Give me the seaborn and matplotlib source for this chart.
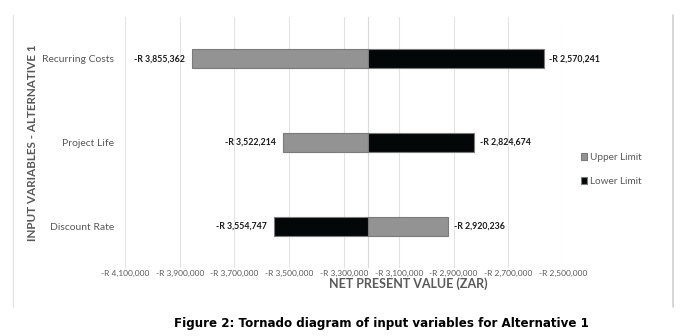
import numpy as np
import pandas as pd
import matplotlib
matplotlib.use("Agg")
import matplotlib.pyplot as plt
from matplotlib.lines import Line2D
import seaborn as sns

# --- Data ---
variables = ["Recurring Costs", "Project Life", "Discount Rate"]
upper_limit = [-3855362, -3522214, -2920236]
lower_limit = [-2570241, -2824674, -3554747]
base_npv = -3211000
tick_values = [-4100000, -3900000, -3700000, -3500000, -3300000,
               -3100000, -2900000, -2700000, -2500000]

# --- Style ---
sns.set_style("white")
plt.rcParams['font.family'] = ['Lato', 'DejaVu Sans']

GREY_TXT = "#595959"
UPPER_C = "#939393"
LOWER_C = "#030708"

W, H = 686, 336
fig = plt.figure(figsize=(W / 100, H / 100), dpi=100)
ax = fig.add_axes([125 / W, (H - 268) / H, 438 / W, 251 / H])

# long-form frame: bars drawn as offsets from the base case NPV
df = pd.DataFrame({
    "variable": variables * 2,
    "limit": ["Upper Limit"] * 3 + ["Lower Limit"] * 3,
    "value": upper_limit + lower_limit,
})
df["delta"] = df["value"] - base_npv

sns.barplot(data=df, x="delta", y="variable", hue="limit",
            order=variables, hue_order=["Upper Limit", "Lower Limit"],
            palette={"Upper Limit": UPPER_C, "Lower Limit": LOWER_C},
            dodge=False, width=0.23, edgecolor="#7a7a7a", linewidth=0.8,
            errorbar=None, ax=ax)

# axis setup in real NPV terms
ticks = np.array(tick_values)
ax.set_xlim(tick_values[0] - base_npv, tick_values[-1] - base_npv)
ax.set_xticks(ticks - base_npv)
ax.set_xticklabels([f"-R {abs(t):,.0f}" for t in tick_values],
                   fontsize=6, color=GREY_TXT)
ax.tick_params(axis='x', length=0, pad=1.5)
ax.tick_params(axis='y', length=0, pad=8, labelsize=7.5, labelcolor=GREY_TXT)
ax.set_xlabel("")
ax.set_ylabel("")
ax.grid(axis='x', color='#e3e3e3', linewidth=0.8)
ax.set_axisbelow(True)
ax.axvline(0, color='#d9d9d9', linewidth=0.8, zorder=0.5)
for s in ax.spines.values():
    s.set_visible(False)

# value labels at bar ends
for i, var in enumerate(variables):
    vals = [upper_limit[i], lower_limit[i]]
    lo, hi = min(vals), max(vals)
    ax.annotate(f"-R {abs(lo):,.0f}", (lo - base_npv, i), xytext=(-5, 0),
                textcoords="offset points", ha="right", va="center",
                fontsize=6.3, fontweight="bold", color="#1a1a1a")
    ax.annotate(f"-R {abs(hi):,.0f}", (hi - base_npv, i), xytext=(4, 0),
                textcoords="offset points", ha="left", va="center",
                fontsize=6.3, fontweight="bold", color="#1a1a1a")

# legend to the right of the plot
handles, labels = ax.get_legend_handles_labels()
ax.legend(handles, labels, loc="upper left",
          bbox_to_anchor=(572 / W, 1 - 144 / H), bbox_transform=fig.transFigure,
          frameon=False, handlelength=0.6, handleheight=0.6, handletextpad=0.3,
          labelspacing=1.5, prop={'size': 7.2}, labelcolor=GREY_TXT)

# axis titles
fig.text(408 / W, 1 - 284 / H, "NET PRESENT VALUE (ZAR)", ha="center", va="center",
         fontsize=9, fontweight="bold", color=GREY_TXT)
fig.text(33 / W, 1 - 143 / H, "INPUT VARIABLES - ALTERNATIVE 1", ha="center",
         va="center", rotation=90, fontsize=8.4, fontweight="bold", color=GREY_TXT)

# chart frame side lines
fig.add_artist(Line2D([13 / W, 13 / W], [1 - 15 / H, 1 - 307 / H],
                      color="#e2e2e2", linewidth=0.9, transform=fig.transFigure))
fig.add_artist(Line2D([673 / W, 673 / W], [1 - 15 / H, 1 - 307 / H],
                      color="#d0d0d0", linewidth=1.2, transform=fig.transFigure))

# caption
fig.text(381 / W, 1 - 323 / H,
         "Figure 2: Tornado diagram of input variables for Alternative 1",
         ha="center", va="center", fontsize=8.6, fontweight="bold",
         family="DejaVu Sans", color="black")

fig.savefig("out.png", dpi=100)
